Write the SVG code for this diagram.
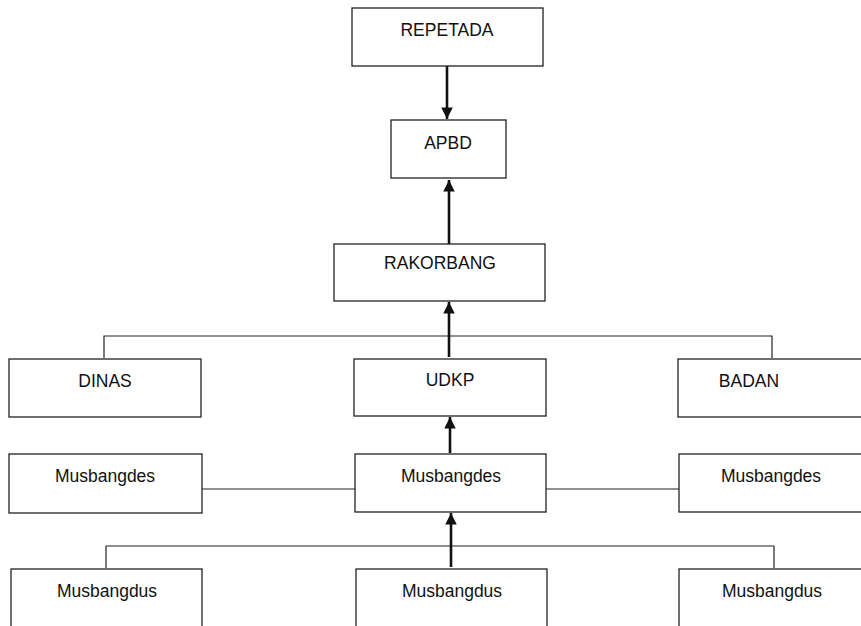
<svg xmlns="http://www.w3.org/2000/svg" width="861" height="626" viewBox="0 0 861 626">
<style>
.box{fill:#fff;stroke:#222;stroke-width:1.3}
.lbl{font-family:"Liberation Sans",Arial,sans-serif;font-size:17.5px;fill:#111;text-anchor:middle}
.thin{fill:none;stroke:#222;stroke-width:1.2}
.arr{fill:none;stroke:#111;stroke-width:2.6;marker-end:url(#ah)}
</style>
<defs>
<marker id="ah" viewBox="0 0 10 10" refX="10" refY="5" markerWidth="4.6" markerHeight="4.4" markerUnits="strokeWidth" orient="auto">
<path d="M0,0 L10,5 L0,10 z" fill="#111"/>
</marker>
</defs>
<rect width="861" height="626" fill="#fff"/>
<g id="connectors">
<polyline class="thin" points="104,358 104,336 772,336 772,358"/>
<polyline class="thin" points="106,568 106,546 774,546 774,568"/>
<line class="thin" x1="202" y1="489" x2="355" y2="489"/>
<line class="thin" x1="546" y1="489" x2="679" y2="489"/>
<line class="arr" x1="447" y1="66" x2="447" y2="119"/>
<line class="arr" x1="449" y1="244" x2="449" y2="180"/>
<line class="arr" x1="449" y1="357" x2="449" y2="302"/>
<line class="arr" x1="450" y1="453" x2="450" y2="417"/>
<line class="arr" x1="451" y1="567" x2="451" y2="513"/>
</g>
<g id="repetada"><rect class="box" x="352" y="8" width="191" height="58"/><text class="lbl" x="447" y="36">REPETADA</text></g>
<g id="apbd"><rect class="box" x="391" y="120" width="115" height="58"/><text class="lbl" x="448" y="149">APBD</text></g>
<g id="rakorbang"><rect class="box" x="334" y="244" width="211" height="57"/><text class="lbl" x="440" y="269">RAKORBANG</text></g>
<g id="dinas"><rect class="box" x="9" y="359" width="192" height="58"/><text class="lbl" x="105" y="387">DINAS</text></g>
<g id="udkp"><rect class="box" x="354" y="359" width="192" height="57"/><text class="lbl" x="450" y="386">UDKP</text></g>
<g id="badan"><rect class="box" x="678" y="359" width="200" height="58"/><text class="lbl" x="749" y="387">BADAN</text></g>
<g id="musbangdes-left"><rect class="box" x="9" y="454" width="193" height="59"/><text class="lbl" x="105" y="482">Musbangdes</text></g>
<g id="musbangdes-mid"><rect class="box" x="355" y="454" width="191" height="58"/><text class="lbl" x="451" y="482">Musbangdes</text></g>
<g id="musbangdes-right"><rect class="box" x="679" y="454" width="200" height="58"/><text class="lbl" x="771" y="482">Musbangdes</text></g>
<g id="musbangdus-left"><rect class="box" x="11" y="569" width="191" height="70"/><text class="lbl" x="107" y="597">Musbangdus</text></g>
<g id="musbangdus-mid"><rect class="box" x="356" y="569" width="191" height="70"/><text class="lbl" x="452" y="597">Musbangdus</text></g>
<g id="musbangdus-right"><rect class="box" x="679" y="569" width="200" height="70"/><text class="lbl" x="772" y="597">Musbangdus</text></g>
</svg>
